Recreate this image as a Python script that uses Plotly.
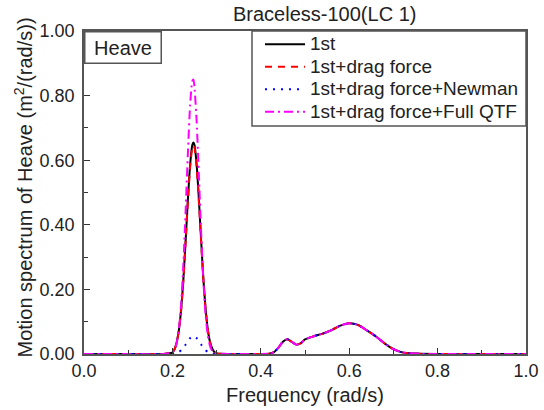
import plotly.graph_objects as go

# Frequency grid (rad/s) and spectra
freq = [0.0, 0.1, 0.18, 0.2, 0.205, 0.21, 0.215, 0.22, 0.225, 0.23, 0.235, 0.24, 0.245, 0.2475,
        0.25, 0.255, 0.26, 0.265, 0.27, 0.275, 0.28, 0.285, 0.29, 0.295, 0.3, 0.35, 0.4,
        0.42, 0.43, 0.44, 0.45, 0.46, 0.47, 0.48, 0.49, 0.5, 0.52, 0.54, 0.56, 0.58, 0.6,
        0.62, 0.64, 0.66, 0.68, 0.7, 0.72, 0.74, 0.76, 0.8, 0.9, 1.0]

hump = [0.0, 0.001, 0.006, 0.02, 0.038, 0.046, 0.038, 0.029, 0.033, 0.045, 0.055, 0.063,
        0.074, 0.088, 0.095, 0.09, 0.073, 0.055, 0.033, 0.015, 0.005, 0.002, 0.0005, 0.0, 0.0, 0.0]

first_order = [0.0, 0.0, 0.0, 0.004, 0.015, 0.038, 0.077, 0.142, 0.234, 0.352, 0.477, 0.584, 0.647, 0.655,
               0.647, 0.584, 0.477, 0.352, 0.234, 0.142, 0.077, 0.038, 0.017, 0.006, 0.002, 0.0] + hump

drag = [0.0, 0.0, 0.0, 0.004, 0.015, 0.037, 0.076, 0.140, 0.231, 0.348, 0.471, 0.577, 0.639, 0.646,
        0.638, 0.576, 0.470, 0.347, 0.231, 0.140, 0.076, 0.037, 0.016, 0.006, 0.002, 0.0] + hump

newman = [0.0, 0.0, 0.0, 0.0005, 0.0015, 0.003, 0.0065, 0.012, 0.02, 0.0295, 0.040, 0.049, 0.054, 0.055,
          0.054, 0.049, 0.040, 0.0295, 0.02, 0.012, 0.0065, 0.003, 0.0014, 0.0005, 0.0, 0.0] + hump

full_qtf = [0.0, 0.0, 0.0, 0.005, 0.014, 0.036, 0.080, 0.160, 0.283, 0.445, 0.621, 0.769, 0.845, 0.85,
            0.826, 0.716, 0.551, 0.377, 0.229, 0.123, 0.059, 0.025, 0.010, 0.003, 0.001, 0.0] + hump

series_names = ["1st", "1st+drag force", "1st+drag force+Newman", "1st+drag force+Full QTF"]
series_values = [first_order, drag, newman, full_qtf]
series_colors = ["#000000", "#FF0000", "#0000FF", "#FF00FF"]
series_dash = ["solid", "7px,6px", "2px,6px", "9px,4px,2px,4px"]

x_ticks = [0.0, 0.2, 0.4, 0.6, 0.8, 1.0]
y_ticks = [0.0, 0.2, 0.4, 0.6, 0.8, 1.0]

FONT = "Arial, Liberation Sans, sans-serif"
AX = "#555555"

fig = go.Figure()
for name, vals, col, dash in zip(series_names, series_values, series_colors, series_dash):
    fig.add_trace(go.Scatter(x=freq, y=vals, mode="lines",
                             name=f"<span style='font-size:19px'>{name}</span>",
                             line=dict(color=col, dash=dash, width=2, shape="spline", smoothing=0.6)))

axis_common = dict(showgrid=False, zeroline=False, showline=True, linecolor=AX, linewidth=1.5,
                   mirror=True, ticks="inside", ticklen=6, tickcolor="#333333", tickwidth=1,
                   automargin=False,
                   tickfont=dict(family=FONT, size=18, color="#222222"),
                   minor=dict(ticks="inside", ticklen=4, tickcolor="#333333", dtick=0.1, tickwidth=1))

fig.update_xaxes(range=[0, 1], tickvals=x_ticks, ticktext=[f"{v:.1f}" for v in x_ticks],
                 title=dict(text="Frequency (rad/s)", font=dict(family=FONT, size=20, color="#222222"), standoff=8),
                 **axis_common)
fig.update_yaxes(range=[0, 1], tickvals=y_ticks, ticktext=[f"{v:.2f}" for v in y_ticks],
                 ticklabelstandoff=4, **axis_common)

# legend frame (px 252..526 x 31..126 in the reference)
L, R, T, B = 84, 18, 31, 56
PW, PH = 544 - L - R, 410 - T - B
fig.add_shape(type="rect", xref="paper", yref="paper", layer="above",
              x0=(252 - L) / PW, x1=1, y0=(T + PH - 126) / PH, y1=1,
              fillcolor="white", line=dict(color=AX, width=1.5))

fig.update_layout(
    width=544, height=410,
    margin=dict(l=L, r=R, t=T, b=B),
    paper_bgcolor="white", plot_bgcolor="white",
    font=dict(family=FONT, color="#222222"),
    showlegend=True,
    legend=dict(x=(260 - L) / PW, y=1 + 3 / PH, xanchor="left", yanchor="top", bgcolor="rgba(0,0,0,0)",
                borderwidth=0, font=dict(family=FONT, size=15, color="#222222"),
                tracegroupgap=0, itemwidth=40),
    annotations=[
        dict(text="Braceless-100(LC 1)", xref="paper", yref="paper", x=0.543, y=1, yshift=17,
             xanchor="center", yanchor="middle", showarrow=False,
             font=dict(family=FONT, size=20, color="#222222")),
        dict(text="Heave", xref="paper", yref="paper", x=0, y=1, xanchor="left", yanchor="top",
             showarrow=False, bgcolor="white", bordercolor=AX, borderwidth=1.5, borderpad=4,
             width=67, height=22,
             font=dict(family=FONT, size=20, color="#222222")),
        dict(text="Motion spectrum of Heave (m<sup>2</sup>/(rad/s))", xref="paper", yref="paper",
             x=0, y=0.5, xshift=-61, yshift=5, xanchor="center", yanchor="middle", textangle=-90,
             showarrow=False, font=dict(family=FONT, size=20, color="#222222")),
    ],
)

fig.write_html("out.html", config={"displayModeBar": False},
               post_script="document.body.style.margin='0';")
